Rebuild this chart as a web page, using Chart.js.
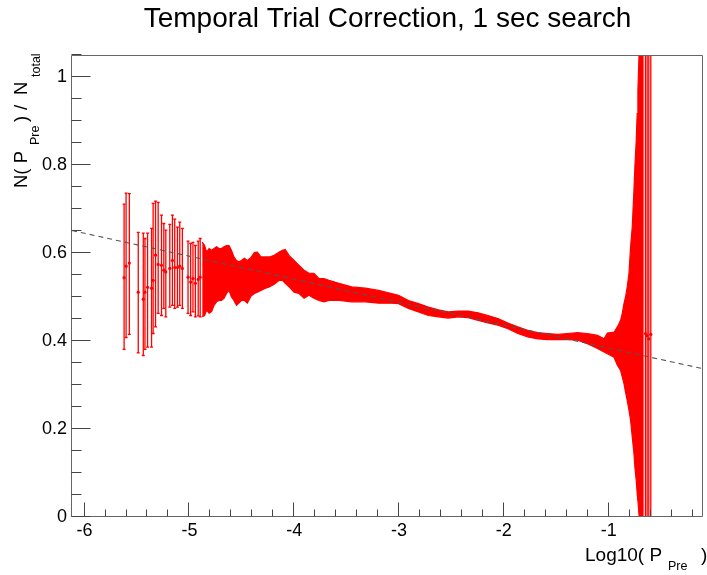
<!DOCTYPE html>
<html>
<head>
<meta charset="utf-8">
<script src="https://cdn.jsdelivr.net/npm/chart.js@4.4.0/dist/chart.umd.min.js"></script>
<style>
html,body{margin:0;padding:0;background:#fff;}
canvas{display:block;}
</style>
</head>
<body>
<canvas id="c" width="707" height="575"></canvas>
<script>
// ---- data ----
const titleText = 'Temporal Trial Correction, 1 sec search';
const xTicks = [-6, -5, -4, -3, -2, -1];
const yTicks = [0, 0.2, 0.4, 0.6, 0.8, 1];

// individual points with error bars (sparse low-P part and the last few wide bins)
const errX = [-5.623,-5.604,-5.573,-5.488,-5.440,-5.424,-5.399,-5.361,-5.346,-5.323,-5.298,-5.266,-5.244,-5.225,-5.187,-5.162,-5.140,-5.114,-5.092,-5.067,-5.013,-4.988,-4.966,-4.943,
  -4.916,-4.897,
  -0.649,-0.633,-0.617,-0.598];
const errY = [0.544,0.570,0.577,0.511,0.495,0.511,0.522,0.520,0.538,0.595,0.574,0.572,0.561,0.557,0.565,0.583,0.567,0.567,0.570,0.565,0.545,0.534,0.542,0.531,
  0.540,0.545,
  0.417,0.412,0.405,0.415];
const errHi = [0.711,0.736,0.735,0.647,0.645,0.633,0.645,0.656,0.713,0.718,0.715,0.686,0.667,0.652,0.665,0.686,0.677,0.659,0.670,0.656,0.627,0.622,0.624,0.617,
  0.627,0.633,
  1.2,1.2,1.2,1.2];
const errLo = [0.381,0.408,0.415,0.373,0.367,0.381,0.386,0.386,0.417,0.432,0.463,0.458,0.474,0.455,0.477,0.481,0.474,0.477,0.481,0.474,0.463,0.458,0.466,0.455,
  0.457,0.455,
  0,0,0,0];

// dense part: upper / lower envelope of the error bars
const bandX = [-4.878,-4.855,-4.836,-4.812,-4.788,-4.765,-4.741,-4.717,-4.694,-4.670,-4.646,-4.622,-4.599,-4.575,-4.551,-4.528,-4.504,
  -4.475,-4.447,-4.412,-4.380,-4.352,-4.317,-4.286,-4.238,-4.191,-4.143,-4.112,-4.086,-4.048,-4.001,-3.954,-3.906,-3.859,-3.812,-3.764,-3.717,-3.669,-3.574,-3.451,-3.321,-3.195,-3.071,-3.005,-2.910,-2.815,-2.720,-2.625,-2.531,-2.436,-2.341,-2.246,-2.151,-2.056,-1.961,-1.867,-1.772,-1.677,-1.582,-1.487,-1.392,-1.297,-1.202,-1.107,-1.044,-1.012,
  -0.949,-0.917,-0.886,-0.870,-0.854,-0.839,-0.823,-0.806,-0.791,-0.775,-0.759,-0.750,-0.737,-0.728,-0.721,-0.709,-0.665];
const bandHi = [0.625,0.617,0.602,0.610,0.606,0.610,0.614,0.610,0.610,0.614,0.617,0.617,0.606,0.591,0.583,0.580,0.583,
  0.588,0.583,0.590,0.601,0.602,0.591,0.591,0.591,0.595,0.602,0.606,0.608,0.594,0.583,0.572,0.561,0.554,0.554,0.542,0.542,0.538,0.531,0.523,0.520,0.515,0.508,0.504,0.492,0.485,0.477,0.471,0.466,0.468,0.468,0.464,0.458,0.451,0.441,0.432,0.424,0.419,0.417,0.415,0.417,0.419,0.417,0.413,0.405,0.418,
  0.420,0.432,0.447,0.463,0.485,0.500,0.523,0.554,0.614,0.659,0.742,0.795,0.856,0.917,0.970,1.06,1.06];
const bandLo = [0.455,0.458,0.470,0.463,0.467,0.481,0.489,0.492,0.492,0.497,0.508,0.515,0.500,0.492,0.481,0.486,0.492,
  0.492,0.486,0.502,0.508,0.511,0.515,0.519,0.523,0.529,0.538,0.538,0.531,0.523,0.511,0.508,0.497,0.504,0.497,0.492,0.489,0.492,0.492,0.489,0.489,0.486,0.486,0.485,0.474,0.466,0.458,0.455,0.452,0.455,0.453,0.447,0.441,0.436,0.428,0.417,0.409,0.405,0.403,0.403,0.403,0.402,0.394,0.383,0.375,0.371,
  0.363,0.345,0.333,0.318,0.303,0.284,0.265,0.242,0.220,0.182,0.145,0.114,0.083,0.054,0.038,0,0];

// dashed fit line
const fitX = [-6.12, -0.1];
const fitY = [0.651, 0.337];

const X_MIN = -6.12, X_MAX = -0.1, Y_MIN = 0, Y_MAX = 1.05;
const FONT = '"Liberation Sans", Arial, Helvetica, sans-serif';
const RED = '#ff0000';

const errorBarPlugin = {
  id: 'errorBars',
  beforeDatasetsDraw(chart) {
    const {ctx, chartArea: ca, scales: {x, y}} = chart;
    ctx.save();
    ctx.beginPath();
    ctx.rect(ca.left, ca.top, ca.right - ca.left, ca.bottom - ca.top);
    ctx.clip();
    ctx.strokeStyle = RED;
    ctx.lineWidth = 1.3;
    for (let i = 0; i < errX.length; i++) {
      const px = x.getPixelForValue(errX[i]);
      const top = y.getPixelForValue(errHi[i]);
      const bot = y.getPixelForValue(errLo[i]);
      ctx.beginPath();
      ctx.moveTo(px, top); ctx.lineTo(px, bot);
      ctx.moveTo(px - 1.5, top); ctx.lineTo(px + 1.5, top);
      ctx.moveTo(px - 1.5, bot); ctx.lineTo(px + 1.5, bot);
      ctx.stroke();
    }
    ctx.restore();
  }
};

const framePlugin = {
  id: 'frame',
  afterDatasetsDraw(chart) {
    const {ctx, chartArea: ca, scales: {x, y}} = chart;
    ctx.save();
    ctx.strokeStyle = '#666';
    ctx.lineWidth = 1;
    const L = ca.left - 0.5, R = ca.right - 0.5, T = ca.top + 0.5, B = ca.bottom - 0.5;
    ctx.beginPath();
    ctx.moveTo(L, T); ctx.lineTo(R, T); ctx.lineTo(R, B); ctx.lineTo(L, B); ctx.closePath();
    ctx.stroke();
    ctx.strokeStyle = '#444';
    ctx.beginPath();
    for (let k = 0; k <= 21; k++) {
      const v = k * 0.05;
      if (v > Y_MAX + 1e-9) break;
      const major = (k % 4 === 0);
      const py = Math.round(y.getPixelForValue(v)) - 0.5;
      ctx.moveTo(L, py); ctx.lineTo(L + (major ? 19 : 10), py);
    }
    for (let k = -31; k <= 0; k++) {
      const v = k * 0.2;
      if (v < X_MIN - 1e-9 || v > X_MAX + 1e-9) continue;
      const major = (k % 5 === 0);
      const px = Math.round(x.getPixelForValue(v)) - 0.5;
      ctx.moveTo(px, B); ctx.lineTo(px, B - (major ? 14 : 7));
    }
    ctx.stroke();
    ctx.restore();
  }
};

function rotText(ctx, text, font, xBase, yStart) {
  ctx.save();
  ctx.translate(xBase, yStart);
  ctx.rotate(-Math.PI / 2);
  ctx.font = font;
  ctx.textAlign = 'left';
  ctx.textBaseline = 'alphabetic';
  ctx.fillText(text, 0, 0);
  ctx.restore();
}

const textPlugin = {
  id: 'texts',
  afterDraw(chart) {
    const {ctx, chartArea: ca} = chart;
    ctx.save();
    ctx.fillStyle = '#000';
    ctx.textBaseline = 'alphabetic';
    ctx.font = '28px ' + FONT;
    ctx.textAlign = 'center';
    ctx.fillText(titleText, (ca.left + ca.right) / 2, 27);
    ctx.textAlign = 'left';
    ctx.font = '19px ' + FONT;
    ctx.fillText('Log10( P', 585, 560.5);
    ctx.font = '12.5px ' + FONT;
    ctx.fillText('Pre', 668, 570);
    ctx.font = '19px ' + FONT;
    ctx.fillText(')', 701, 560.5);
    const big = '18.5px ' + FONT, small = '12.5px ' + FONT;
    rotText(ctx, 'N( P', big, 27, 188);
    rotText(ctx, 'Pre', small, 39, 145);
    rotText(ctx, ')', big, 27, 122);
    rotText(ctx, '/', big, 27, 110);
    rotText(ctx, 'N', big, 27, 95);
    rotText(ctx, 'total', small, 39.5, 77);
    ctx.restore();
  }
};

const pts = (xs, ys) => xs.map((v, i) => ({x: v, y: ys[i]}));

new Chart(document.getElementById('c'), {
  type: 'scatter',
  data: {
    datasets: [
      {
        label: 'fit', type: 'line', data: pts(fitX, fitY), showLine: true,
        borderColor: '#555', borderWidth: 1.1, borderDash: [5, 4],
        pointRadius: 0, fill: false, order: 0, clip: 0
      },
      {
        label: 'points', data: pts(errX, errY), pointRadius: 1.6,
        backgroundColor: RED, borderWidth: 0, order: 1, clip: 0
      },
      {
        label: 'bandHi', type: 'line', data: pts(bandX, bandHi), showLine: true,
        borderColor: RED, borderWidth: 1.2, backgroundColor: RED,
        pointRadius: 0, tension: 0, fill: '+1', order: 2, clip: 0
      },
      {
        label: 'bandLo', type: 'line', data: pts(bandX, bandLo), showLine: true,
        borderColor: RED, borderWidth: 1.2, backgroundColor: RED,
        pointRadius: 0, tension: 0, fill: false, order: 3, clip: 0
      }
    ]
  },
  options: {
    responsive: false,
    animation: false,
    devicePixelRatio: 1,
    layout: {padding: {top: 55, right: 1, left: 0, bottom: 0}},
    plugins: {legend: {display: false}, tooltip: {enabled: false}, title: {display: false}},
    scales: {
      x: {
        type: 'linear', min: X_MIN, max: X_MAX,
        grid: {display: false, drawTicks: false}, border: {display: false},
        ticks: {font: {family: FONT, size: 18}, color: '#000', padding: 3, autoSkip: false, maxRotation: 0,
                callback: v => String(v)},
        afterBuildTicks: s => { s.ticks = xTicks.map(v => ({value: v})); },
        afterFit: s => { s.height = 58; }
      },
      y: {
        type: 'linear', min: Y_MIN, max: Y_MAX,
        grid: {display: false, drawTicks: false}, border: {display: false},
        ticks: {font: {family: FONT, size: 18}, color: '#000', padding: 5, autoSkip: false,
                callback: v => String(v)},
        afterBuildTicks: s => { s.ticks = yTicks.map(v => ({value: v})); },
        afterFit: s => { s.width = 72; }
      }
    }
  },
  plugins: [errorBarPlugin, framePlugin, textPlugin]
});
</script>
</body>
</html>
